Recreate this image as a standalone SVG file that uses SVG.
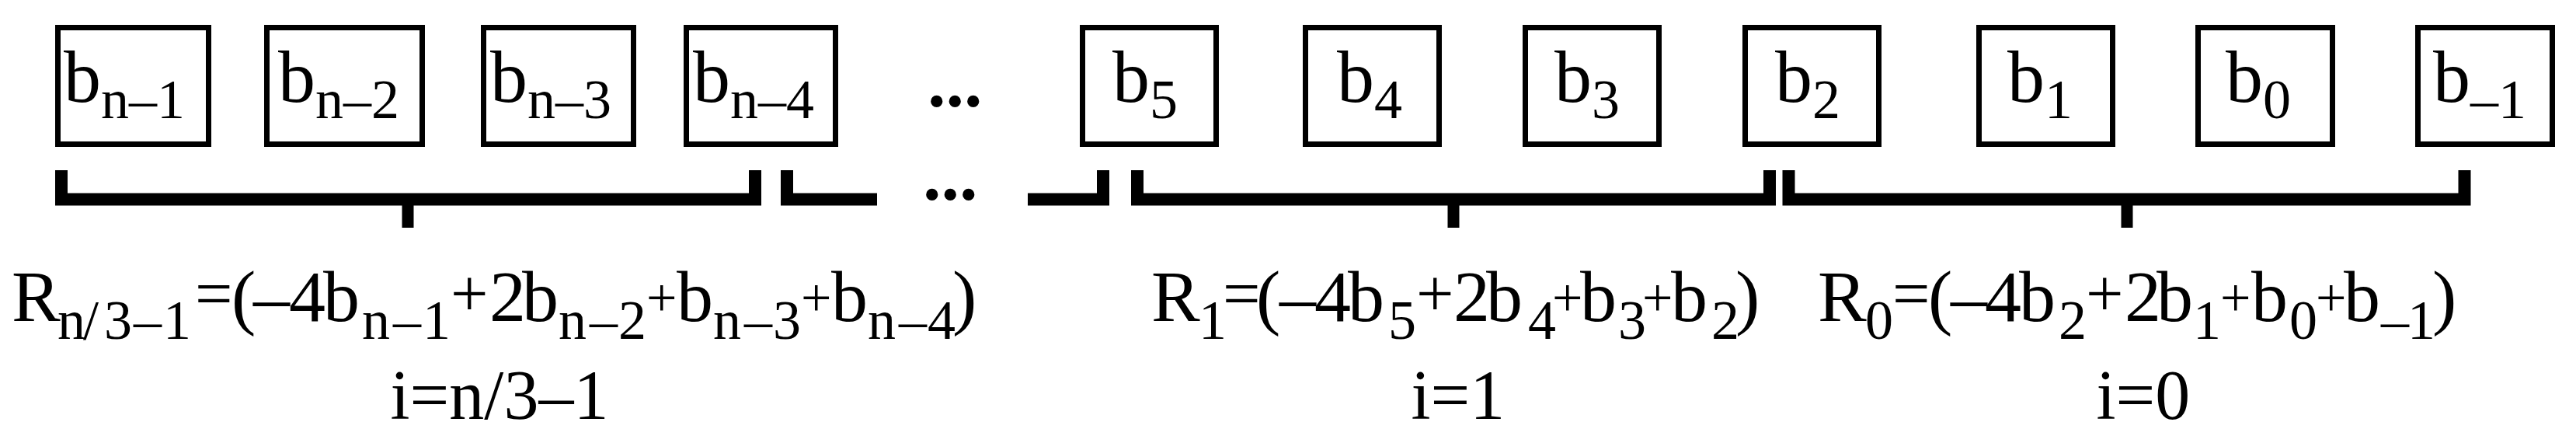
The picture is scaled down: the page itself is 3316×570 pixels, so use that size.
<svg xmlns="http://www.w3.org/2000/svg" width="3316" height="570" viewBox="0 0 3316 570">
<style>
  text { font-family: "Liberation Serif", "Times New Roman", serif; fill: #000; }
  .box { fill: #fff; stroke: #000; stroke-width: 7; }
  .bt { font-size: 96px; }
  .bs { font-size: 72px; }
  .fm { font-size: 94px; }
  .fs { font-size: 72px; }
  .eq { font-size: 86px; }
  .pl { font-size: 70px; }
  .dots { font-size: 94px; font-weight: bold; }
  .lbl { font-size: 90px; text-anchor: middle; }
  .br { fill: none; stroke: #000; stroke-width: 16; stroke-linecap: butt; stroke-linejoin: miter; }
  .tk { fill: none; stroke: #000; stroke-width: 15; stroke-linecap: butt; }
</style>
<rect width="3316" height="570" fill="#fff"/>

<g id="b_n-1"><rect class="box" x="74.5" y="35.5" width="194" height="150"/><text class="bt" x="82" y="131">b<tspan class="bs" dy="21">n–1</tspan></text></g>
<g id="b_n-2"><rect class="box" x="343.5" y="35.5" width="200" height="150"/><text class="bt" x="358" y="131">b<tspan class="bs" dy="21">n–2</tspan></text></g>
<g id="b_n-3"><rect class="box" x="622.5" y="35.5" width="193" height="150"/><text class="bt" x="631" y="131">b<tspan class="bs" dy="21">n–3</tspan></text></g>
<g id="b_n-4"><rect class="box" x="883.5" y="35.5" width="192" height="150"/><text class="bt" x="892" y="131">b<tspan class="bs" dy="21">n–4</tspan></text></g>
<g id="dots_top"><text class="dots" x="1194" y="137">...</text></g>
<g id="b_5"><rect class="box" x="1393.5" y="35.5" width="172" height="150"/><text class="bt" x="1432" y="131">b<tspan class="bs" dy="21">5</tspan></text></g>
<g id="b_4"><rect class="box" x="1680.5" y="35.5" width="172" height="150"/><text class="bt" x="1721" y="131">b<tspan class="bs" dy="21">4</tspan></text></g>
<g id="b_3"><rect class="box" x="1963.5" y="35.5" width="172" height="150"/><text class="bt" x="2001" y="131">b<tspan class="bs" dy="21">3</tspan></text></g>
<g id="b_2"><rect class="box" x="2246.5" y="35.5" width="172" height="150"/><text class="bt" x="2285" y="131">b<tspan class="bs" dy="21">2</tspan></text></g>
<g id="b_1"><rect class="box" x="2547.5" y="35.5" width="172" height="150"/><text class="bt" x="2584" y="131">b<tspan class="bs" dy="21">1</tspan></text></g>
<g id="b_0"><rect class="box" x="2829.5" y="35.5" width="173" height="150"/><text class="bt" x="2865" y="131">b<tspan class="bs" dy="21">0</tspan></text></g>
<g id="b_-1"><rect class="box" x="3112.5" y="35.5" width="173" height="150"/><text class="bt" x="3132" y="131">b<tspan class="bs" dy="21">–1</tspan></text></g>

<g id="connectors">
  <path class="br" d="M79 219V256.5H972V219"/>
  <path class="tk" d="M525 256.5V293"/>
  <path class="br" d="M1013 219V256.5H1129"/>
  <path class="br" d="M1323 256.5H1420V219"/>
  <path class="br" d="M1464 219V256.5H2278V219"/>
  <path class="tk" d="M1871 256.5V293"/>
  <path class="br" d="M2302.5 219V256.5H3172.5V219"/>
  <path class="tk" d="M2738 256.5V293"/>
</g>
<g id="dots_bottom"><text class="dots" x="1188" y="257">...</text></g>

<g id="formula_n3">
  <text class="fm" y="413"><tspan x="15">R</tspan><tspan class="fs" x="74 107 134 172 210" y="436">n/3–1</tspan><tspan class="eq" x="251" y="407">=</tspan><tspan x="298" y="413">(</tspan><tspan x="326 372" y="413">–4</tspan><tspan x="416" y="413">b</tspan><tspan class="fs" x="466 506 544" y="436">n–1</tspan><tspan class="eq" x="580" y="407">+</tspan><tspan x="630 672" y="413">2b</tspan><tspan class="fs" x="719 759 796" y="436">n–2</tspan><tspan class="pl" x="832" y="407">+</tspan><tspan x="871" y="413">b</tspan><tspan class="fs" x="918 958 995" y="436">n–3</tspan><tspan class="pl" x="1031" y="407">+</tspan><tspan x="1070" y="413">b</tspan><tspan class="fs" x="1117 1157 1194" y="436">n–4</tspan><tspan x="1226" y="413">)</tspan></text>
  <text class="lbl" x="643" y="539">i=n/3–1</text>
</g>

<g id="formula_1">
  <text class="fm" y="413"><tspan x="1482">R</tspan><tspan class="fs" x="1543" y="436">1</tspan><tspan class="eq" x="1574" y="407">=</tspan><tspan x="1617" y="413">(</tspan><tspan x="1647 1692" y="413">–4</tspan><tspan x="1735" y="413">b</tspan><tspan class="fs" x="1787" y="436">5</tspan><tspan class="eq" x="1823" y="407">+</tspan><tspan x="1871 1913" y="413">2b</tspan><tspan class="fs" x="1967" y="436">4</tspan><tspan class="pl" x="1998" y="407">+</tspan><tspan x="2034" y="413">b</tspan><tspan class="fs" x="2083" y="436">3</tspan><tspan class="pl" x="2114" y="407">+</tspan><tspan x="2151" y="413">b</tspan><tspan class="fs" x="2203" y="436">2</tspan><tspan x="2234" y="413">)</tspan></text>
  <text class="lbl" x="1877" y="539">i=1</text>
</g>

<g id="formula_0">
  <text class="fm" y="413"><tspan x="2340">R</tspan><tspan class="fs" x="2401" y="436">0</tspan><tspan class="eq" x="2436" y="407">=</tspan><tspan x="2482" y="413">(</tspan><tspan x="2511 2555" y="413">–4</tspan><tspan x="2599" y="413">b</tspan><tspan class="fs" x="2650" y="436">2</tspan><tspan class="eq" x="2685" y="407">+</tspan><tspan x="2735 2776" y="413">2b</tspan><tspan class="fs" x="2823" y="436">1</tspan><tspan class="pl" x="2858" y="407">+</tspan><tspan x="2898" y="413">b</tspan><tspan class="fs" x="2947" y="436">0</tspan><tspan class="pl" x="2981" y="407" font-size="58">+</tspan><tspan x="3017" y="413">b</tspan><tspan class="fs" x="3065 3099" y="436">–1</tspan><tspan x="3131" y="413">)</tspan></text>
  <text class="lbl" x="2759" y="539">i=0</text>
</g>
</svg>
